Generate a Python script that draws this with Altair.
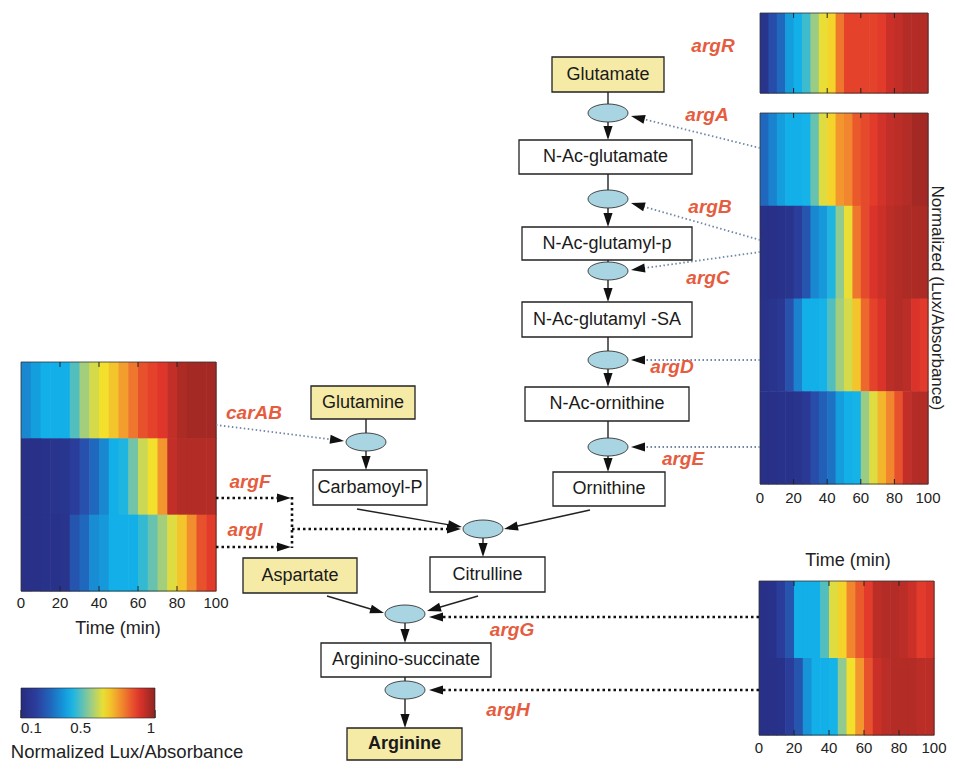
import math
import altair as alt
import pandas as pd

# ---------------- data ----------------
time_bins = [0, 5, 10, 15, 20, 25, 30, 35, 40, 45, 50, 55, 60, 65, 70, 75, 80, 85, 90, 95]
BIN = 5

argR  = [.15, .24, .30, .40, .43, .48, .57, .65, .68, .80, .87, .87, .87, .87, .88, .92, .93, .95, .95, .95]
argA  = [.30, .35, .40, .43, .43, .44, .52, .64, .68, .76, .78, .84, .86, .88, .91, .93, .94, .95, .97, .97]
argCB = [.13, .13, .14, .15, .20, .26, .36, .39, .45, .56, .65, .80, .86, .90, .92, .94, .95, .96, .96, .96]
argD  = [.14, .15, .17, .25, .35, .43, .43, .44, .50, .58, .63, .70, .82, .87, .90, .94, .95, .94, .90, .88]
argE  = [.13, .13, .14, .14, .15, .18, .24, .28, .32, .40, .43, .44, .57, .64, .72, .78, .85, .93, .95, .95]
carAB = [.36, .40, .43, .43, .43, .50, .58, .63, .66, .70, .75, .80, .85, .87, .89, .93, .96, .97, .97, .97]
argF  = [.13, .13, .14, .15, .16, .20, .25, .30, .36, .43, .45, .53, .62, .66, .76, .93, .95, .95, .95, .95]
argI  = [.13, .13, .14, .14, .15, .26, .30, .37, .39, .43, .43, .43, .47, .52, .58, .64, .70, .77, .85, .88]
argG  = [.13, .14, .20, .26, .43, .43, .43, .50, .64, .68, .78, .84, .88, .94, .95, .95, .94, .92, .88, .90]
argH  = [.13, .13, .14, .20, .26, .38, .43, .43, .44, .56, .66, .76, .85, .92, .94, .95, .95, .95, .94, .94]
series = {"argR": argR, "argA": argA, "argCB": argCB, "argD": argD, "argE": argE,
          "carAB": carAB, "argF": argF, "argI": argI, "argG": argG, "argH": argH}

tick_values = [0, 20, 40, 60, 80, 100]
inner_ticks = [20, 40, 60, 80]
colorbar_ticks = [0.1, 0.5, 1]
color_stops = [0.1, 0.2125, 0.325, 0.4375, 0.55, 0.6625, 0.775, 0.8875, 1.0]
color_range = ["#262b7e", "#2c3f9f", "#1c74c6", "#12b3ea", "#86c89a",
               "#f4e12a", "#f28a2e", "#e2352b", "#8e2522"]

metabolites = ["Glutamate", "N-Ac-glutamate", "N-Ac-glutamyl-p", "N-Ac-glutamyl -SA",
               "N-Ac-ornithine", "Ornithine", "Glutamine", "Carbamoyl-P", "Citrulline",
               "Aspartate", "Arginino-succinate", "Arginine"]
substrates = ["Glutamate", "Glutamine", "Aspartate", "Arginine"]
gene_labels = ["argR", "argA", "argB", "argC", "argD", "argE", "carAB", "argF", "argI", "argG", "argH"]
time_title = "Time (min)"
side_title = "Normalized (Lux/Absorbance)"
bar_title = "Normalized Lux/Absorbance"

# ---------------- layout ----------------
FONT = "Liberation Sans"
W, H = 939, 753
X0, Y0 = 8, 8
xs = alt.Scale(domain=[X0, X0 + W], nice=False, zero=False)
ys = alt.Scale(domain=[Y0, Y0 + H], nice=False, zero=False, reverse=True)


def X(f):
    return alt.X(f"{f}:Q", scale=xs, axis=None)


def Y(f):
    return alt.Y(f"{f}:Q", scale=ys, axis=None)


panels = {
    "argR":   dict(x0=760, x1=928, y0=13,  y1=93,  rows=["argR"], ly=None),
    "right":  dict(x0=760, x1=928, y0=113, y1=484, rows=["argA", "argCB", "argD", "argE"], ly=498),
    "left":   dict(x0=21,  x1=216, y0=362, y1=591, rows=["carAB", "argF", "argI"], ly=603),
    "bottom": dict(x0=759, x1=934, y0=581, y1=735, rows=["argG", "argH"], ly=748),
}

boxes = {
    "Glutamate":          (552, 664, 57, 92),
    "N-Ac-glutamate":     (519, 692, 140, 174),
    "N-Ac-glutamyl-p":    (522, 692, 227, 260),
    "N-Ac-glutamyl -SA":  (522, 692, 302, 337),
    "N-Ac-ornithine":     (525, 689, 387, 421),
    "Ornithine":          (553, 665, 472, 506),
    "Glutamine":          (311, 415, 386, 419),
    "Carbamoyl-P":        (313, 427, 470, 505),
    "Citrulline":         (430, 545, 557, 592),
    "Aspartate":          (243, 357, 558, 593),
    "Arginino-succinate": (321, 491, 643, 677),
    "Arginine":           (347, 462, 728, 760),
}
RX, RY = 20, 9
enz = {"E1": (608, 113), "E2": (608, 199), "E3": (608, 271), "E4": (608, 360), "E5": (608, 447),
       "Ecar": (366, 442), "Ecit": (483, 529), "EargG": (405, 614), "EargH": (405, 690)}

label_pos = {"argR": (713, 46), "argA": (707, 115), "argB": (710, 207), "argC": (708, 278),
             "argD": (672, 367), "argE": (683, 459), "carAB": (254, 413), "argF": (250, 482),
             "argI": (245, 530), "argG": (512, 630), "argH": (508, 710)}

chain = [("Glutamate", "E1", "N-Ac-glutamate"), ("N-Ac-glutamate", "E2", "N-Ac-glutamyl-p"),
         ("N-Ac-glutamyl-p", "E3", "N-Ac-glutamyl -SA"), ("N-Ac-glutamyl -SA", "E4", "N-Ac-ornithine"),
         ("N-Ac-ornithine", "E5", "Ornithine"), ("Glutamine", "Ecar", "Carbamoyl-P"),
         (None, "Ecit", "Citrulline"), (None, "EargG", "Arginino-succinate"),
         ("Arginino-succinate", "EargH", "Arginine")]

solid = []
for a, e, b in chain:
    ex, ey = enz[e]
    if a is not None:
        solid.append(((ex, boxes[a][3]), (ex, ey - RY), False))
    solid.append(((ex, ey + RY), (ex, boxes[b][2]), True))
solid += [((357, 509), (462, 527), True), ((590, 510), (504, 529), True),
          ((327, 596), (384, 613), True), ((478, 596), (427, 611), True)]

light = [((760, 148), (631, 116), True), ((760, 240), (631, 203), True),
         ((760, 252), (631, 270), True), ((760, 360), (631, 360), True),
         ((760, 447), (631, 447), True), ((216, 425), (344, 441), True)]
dark = [((216, 498), (291, 498), True), ((216, 547), (291, 547), True),
        ((292, 497), (292, 548), False), ((292, 529), (461, 529), True),
        ((759, 617), (429, 617), True), ((759, 690), (429, 690), True)]

AH = 7  # arrow head half-length


def build(edges):
    lines, heads = [], []
    for (x1, y1), (x2, y2), arrow in edges:
        if arrow:
            dx, dy = x2 - x1, y2 - y1
            L = math.hypot(dx, dy)
            ux, uy = dx / L, dy / L
            cx, cy = x2 - ux * AH, y2 - uy * AH
            ang = math.degrees(math.atan2(ux, -uy)) % 360
            heads.append(dict(x=cx, y=cy, angle=ang))
            lines.append(dict(x1=x1, y1=y1, x2=cx, y2=cy))
        else:
            lines.append(dict(x1=x1, y1=y1, x2=x2, y2=y2))
    return pd.DataFrame(lines), heads


solid_df, h1 = build(solid)
light_df, h2 = build(light)
dark_df, h3 = build(dark)
heads_df = pd.DataFrame(h1 + h2 + h3)

# heatmap cells
rows = []
for p in panels.values():
    n = len(p["rows"])
    rh = (p["y1"] - p["y0"]) / n
    for i, g in enumerate(p["rows"]):
        for t, v in zip(time_bins, series[g]):
            rows.append(dict(gene=g, t=t, value=v, px0=p["x0"], k=(p["x1"] - p["x0"]) / 100,
                             rt=p["y0"] + i * rh, rb=p["y0"] + (i + 1) * rh + 0.6))
heat_df = pd.DataFrame(rows)

frame_df = pd.DataFrame([dict(x0=p["x0"], x1=p["x1"], y0=p["y0"], y1=p["y1"]) for p in panels.values()])

tl = []
for p in panels.values():
    if p["ly"] is not None:
        for t in tick_values:
            tl.append(dict(t=t, label=str(t), px0=p["x0"], k=(p["x1"] - p["x0"]) / 100, y=p["ly"]))
ticklab_df = pd.DataFrame(tl)

tm = []
for p in panels.values():
    for t in inner_ticks:
        tm.append(dict(t=t, px0=p["x0"], k=(p["x1"] - p["x0"]) / 100, ya=p["y1"], yb=p["y1"] - 5))
        tm.append(dict(t=t, px0=p["x0"], k=(p["x1"] - p["x0"]) / 100, ya=p["y0"], yb=p["y0"] + 5))
tickmark_df = pd.DataFrame(tm)

box_df = pd.DataFrame([dict(name=m, x0=boxes[m][0], x1=boxes[m][1], y0=boxes[m][2], y1=boxes[m][3],
                            cx=(boxes[m][0] + boxes[m][1]) / 2, cy=(boxes[m][2] + boxes[m][3]) / 2,
                            fill="#f5eba6" if m in substrates else "#ffffff",
                            bold=(m == "Arginine")) for m in metabolites])
enz_df = pd.DataFrame([dict(x=v[0], y=v[1]) for v in enz.values()])
gene_df = pd.DataFrame([dict(g=g, x=label_pos[g][0], y=label_pos[g][1]) for g in gene_labels])
titles_df = pd.DataFrame([dict(s=time_title, x=118, y=629), dict(s=time_title, x=848, y=561)])
cbt_df = pd.DataFrame([dict(v=v) for v in colorbar_ticks])

# ---------------- layers ----------------
color = alt.Color(
    "value:Q",
    scale=alt.Scale(domain=color_stops, range=color_range, interpolate="rgb"),
    legend=alt.Legend(orient="none", legendX=13, legendY=680, direction="horizontal",
                      gradientLength=134, gradientThickness=30, title=None, values=colorbar_ticks,
                      format="~g", labelFontSize=15, labelFont=FONT, labelColor="#222",
                      gradientStrokeColor="#222", gradientStrokeWidth=0.6, padding=0, labelOffset=3),
)

heat = alt.Chart(heat_df).transform_calculate(
    xa="datum.px0 + datum.t * datum.k",
    xb=f"datum.px0 + (datum.t + {BIN}) * datum.k + 0.6",
).mark_rect(strokeWidth=0).encode(x=X("xa"), x2="xb:Q", y=Y("rt"), y2="rb:Q", color=color)

frames = alt.Chart(frame_df).mark_rect(fillOpacity=0, stroke="#333", strokeWidth=0.8).encode(
    x=X("x0"), x2="x1:Q", y=Y("y0"), y2="y1:Q")

tickmarks = alt.Chart(tickmark_df).transform_calculate(
    xt="datum.px0 + datum.t * datum.k").mark_rule(color="#222", strokeWidth=1).encode(
    x=X("xt"), y=Y("ya"), y2="yb:Q")

ticklabels = alt.Chart(ticklab_df).transform_calculate(
    xt="datum.px0 + datum.t * datum.k").mark_text(font=FONT, fontSize=15, color="#222").encode(
    x=X("xt"), y=Y("y"), text="label:N")

titles = alt.Chart(titles_df).mark_text(font=FONT, fontSize=18, color="#222").encode(
    x=X("x"), y=Y("y"), text="s:N")

bar_t = alt.Chart(pd.DataFrame([dict(s=bar_title, x=127, y=752)])).mark_text(
    font=FONT, fontSize=18.5, color="#222").encode(x=X("x"), y=Y("y"), text="s:N")

side = alt.Chart(pd.DataFrame([dict(s=side_title, x=937, y=298)])).mark_text(
    font=FONT, fontSize=17, color="#222", angle=90).encode(x=X("x"), y=Y("y"), text="s:N")

cb_ticks = alt.Chart(cbt_df).transform_calculate(
    xt="21 + (datum.v - 0.1) / 0.9 * 134", ya="718", yb="710").mark_rule(
    color="#111", strokeWidth=1.2).encode(x=X("xt"), y=Y("ya"), y2="yb:Q")

solid_lines = alt.Chart(solid_df).mark_rule(color="#222", strokeWidth=1.4).encode(
    x=X("x1"), y=Y("y1"), x2="x2:Q", y2="y2:Q")
light_lines = alt.Chart(light_df).mark_rule(color="#6f86a6", strokeWidth=1.8, strokeDash=[1.5, 2.5]).encode(
    x=X("x1"), y=Y("y1"), x2="x2:Q", y2="y2:Q")
dark_lines = alt.Chart(dark_df).mark_rule(color="#111", strokeWidth=2.6, strokeDash=[2.5, 3]).encode(
    x=X("x1"), y=Y("y1"), x2="x2:Q", y2="y2:Q")

heads = alt.Chart(heads_df).mark_point(
    shape="M0,-1L0.65,1L-0.65,1Z", filled=True, color="#111", size=(2 * AH) ** 2, opacity=1,
    strokeWidth=0).encode(x=X("x"), y=Y("y"), angle=alt.Angle("angle:Q", scale=None))

ellipses = alt.Chart(enz_df).mark_point(
    shape="M-1,0A1,0.45 0 1,1 1,0A1,0.45 0 1,1 -1,0Z", filled=True, fill="#a9d4e2",
    stroke="#333", strokeWidth=0.9, size=(2 * RX) ** 2, opacity=1, fillOpacity=1).encode(
    x=X("x"), y=Y("y"))

rects = alt.Chart(box_df).mark_rect(stroke="#222", strokeWidth=1.3).encode(
    x=X("x0"), x2="x1:Q", y=Y("y0"), y2="y1:Q", fill=alt.Fill("fill:N", scale=None))

box_text = alt.Chart(box_df).transform_filter("!datum.bold").mark_text(
    font=FONT, fontSize=18, color="#1a1a1a").encode(x=X("cx"), y=Y("cy"), text="name:N")
box_bold = alt.Chart(box_df).transform_filter("datum.bold").mark_text(
    font=FONT, fontSize=18, fontWeight="bold", color="#1a1a1a").encode(x=X("cx"), y=Y("cy"), text="name:N")

genes = alt.Chart(gene_df).mark_text(
    font=FONT, fontSize=19, fontWeight="bold", fontStyle="italic", color="#e65c3e").encode(
    x=X("x"), y=Y("y"), text="g:N")

chart = alt.layer(
    heat, frames, tickmarks, ticklabels, titles, bar_t, side, cb_ticks,
    light_lines, dark_lines, solid_lines, rects, ellipses, heads, box_text, box_bold, genes,
).properties(width=W, height=H, padding=0, autosize="none").configure_view(stroke=None)

chart.save("out.html", embed_options={"renderer": "svg", "actions": False})
